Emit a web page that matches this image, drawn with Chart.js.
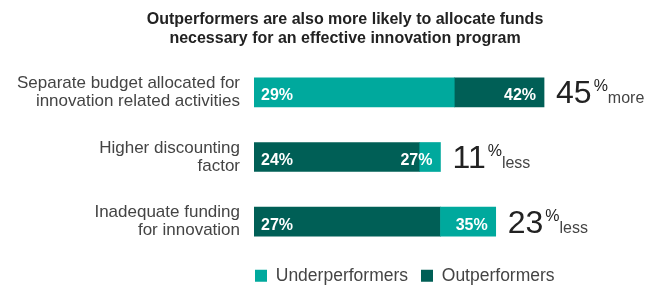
<!DOCTYPE html>
<html lang="en">
<head>
<meta charset="UTF-8">
<title>Outperformers funding</title>
<style>
  html, body { margin: 0; padding: 0; background: #fff; }
</style>
</head>
<body>
<canvas id="myChart" width="668" height="286"></canvas>
<script src="https://cdn.jsdelivr.net/npm/chart.js"></script>
<script>
const titleLines = ['Outperformers are also more likely to allocate funds', 'necessary for an effective innovation program'];
const categories = [
  ['Separate budget allocated for', 'innovation related activities'],
  ['Higher discounting', 'factor'],
  ['Inadequate funding', 'for innovation']
];
const underperformers = [29, 27, 35];
const outperformers = [42, 24, 27];
const gapValues = [45, 11, 23];
const gapWords = ['more', 'less', 'less'];

const lightTeal = '#00a99d';
const darkTeal = '#005f56';
const font = '"Liberation Sans", Arial, Helvetica, sans-serif';

// smaller share starts at 0, the bigger one carries on behind it to its own value
function segments(own, other) {
  return own.map((v, i) => v <= other[i] ? [0, v] : [other[i], v]);
}

const titlePlugin = {
  id: 'titleText',
  afterLayout(chart) {
    // legend row starts just under the bars, not at the canvas edge
    chart.legend.left = 242;
    chart.legend.right = chart.width;
    chart.legend.width = chart.width - 242;
  },
  afterDraw(chart) {
    const ctx = chart.ctx;
    ctx.save();
    ctx.font = 'bold 16px ' + font;
    ctx.fillStyle = '#222';
    ctx.textAlign = 'center';
    ctx.textBaseline = 'alphabetic';
    ctx.fillText(titleLines[0], 345, 24);
    ctx.fillText(titleLines[1], 345, 43);
    ctx.restore();
  }
};

const barLabels = {
  id: 'barLabels',
  afterDatasetsDraw(chart) {
    const ctx = chart.ctx;
    ctx.save();
    ctx.textBaseline = 'alphabetic';
    chart.data.datasets.forEach((ds, d) => {
      chart.getDatasetMeta(d).data.forEach((bar, i) => {
        const front = ds.data[i][0] === 0;
        ctx.font = 'bold 16px ' + font;
        ctx.fillStyle = '#fff';
        ctx.textAlign = front ? 'left' : 'right';
        ctx.fillText(ds.values[i] + '%', front ? bar.base + 7 : bar.x - 8, bar.y + 8);
      });
    });

    const a = chart.getDatasetMeta(0).data;
    const b = chart.getDatasetMeta(1).data;
    a.forEach((bar, i) => {
      const x = Math.max(bar.x, b[i].x) + 12;
      const base = bar.y + 11;
      ctx.textAlign = 'left';
      ctx.fillStyle = '#222';
      ctx.font = '32px ' + font;
      const num = String(gapValues[i]);
      ctx.fillText(num, x, base);
      const w = ctx.measureText(num).width;
      ctx.font = '16px ' + font;
      ctx.fillText('%', x + w + 2, base - 12);
      const pw = ctx.measureText('%').width;
      ctx.fillStyle = '#444';
      ctx.fillText(gapWords[i], x + w + 2 + pw, base);
    });
    ctx.restore();
  }
};

new Chart(document.getElementById('myChart'), {
  type: 'bar',
  data: {
    labels: categories,
    datasets: [{
      label: 'Underperformers',
      data: segments(underperformers, outperformers),
      values: underperformers,
      backgroundColor: lightTeal,
      grouped: false,
      barThickness: 29
    }, {
      label: 'Outperformers',
      data: segments(outperformers, underperformers),
      values: outperformers,
      backgroundColor: darkTeal,
      grouped: false,
      barThickness: 29
    }]
  },
  options: {
    responsive: false,
    animation: false,
    indexAxis: 'y',
    layout: { padding: { top: 60, right: 106, bottom: 0, left: 0 } },
    scales: {
      x: {
        display: false,
        min: 0,
        max: 44.6
      },
      y: {
        grid: { display: false },
        border: { display: false },
        afterFit(scale) { scale.width = 254; },
        ticks: {
          color: '#444',
          padding: 6,
          font: { family: font, size: 17, lineHeight: 1.05 }
        }
      }
    },
    plugins: {
      tooltip: { enabled: false },
      legend: {
        position: 'bottom',
        align: 'start',
        maxHeight: 32,
        labels: {
          boxWidth: 12,
          boxHeight: 12,
          padding: 13,
          color: '#444',
          font: { family: font, size: 17.5 }
        }
      }
    }
  },
  plugins: [titlePlugin, barLabels]
});
</script>
</body>
</html>
